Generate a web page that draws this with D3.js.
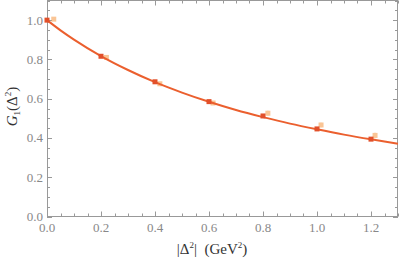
<!DOCTYPE html>
<html>
<head>
<meta charset="utf-8">
<script src="https://cdn.jsdelivr.net/npm/d3@7"></script>
<style>
  body { margin: 0; background: #fff; }
  text { font-family: "Liberation Serif", "DejaVu Serif", serif; }
</style>
</head>
<body>
<div id="chart"></div>
<script>
// data
const tValues = [0.0, 0.2, 0.4, 0.6, 0.8, 1.0, 1.2];
const latticeA = [1.0, 0.816, 0.686, 0.585, 0.512, 0.446, 0.394];
const latticeBx = [0.025, 0.22, 0.418, 0.615, 0.818, 1.015, 1.215];
const latticeB = [1.005, 0.81, 0.676, 0.578, 0.526, 0.466, 0.413];
const latticeBerr = [0.006, 0.008, 0.008, 0.008, 0.012, 0.012, 0.014];
const curveT = [0.0, 0.05, 0.1, 0.2, 0.3, 0.4, 0.5, 0.6, 0.7, 0.8, 0.9, 1.0, 1.1, 1.2, 1.3];
const curveG = [1.0, 0.948, 0.901, 0.817, 0.746, 0.684, 0.631, 0.584, 0.542, 0.506, 0.473, 0.444, 0.417, 0.393, 0.371];
const xTicks = [0.0, 0.2, 0.4, 0.6, 0.8, 1.0, 1.2];
const yTicks = [0.0, 0.2, 0.4, 0.6, 0.8, 1.0];

const width = 399, height = 265;
const margin = {left: 47, right: 1, top: 0, bottom: 48};

const svg = d3.select("#chart").append("svg")
    .attr("width", width)
    .attr("height", height)

const x = d3.scaleLinear().domain([0, 1.3]).range([margin.left, width - margin.right])
const y = d3.scaleLinear().domain([0, 1.1]).range([height - margin.bottom - 0.5, margin.top + 0.5])

const axisColor = "#999";
const x0 = x.range()[0], x1 = x.range()[1], y0 = y.range()[0], y1 = y.range()[1];

// frame
svg.append("rect")
    .attr("x", x0 + 0.5).attr("y", y1)
    .attr("width", x1 - x0 - 1).attr("height", y0 - y1)
    .attr("fill", "none").attr("stroke", axisColor).attr("stroke-width", 1)

// ticks on all four sides
const xMinor = d3.range(0, 1.3001, 0.05).map(v => +v.toFixed(2));
const yMinor = d3.range(0, 1.1001, 0.05).map(v => +v.toFixed(2));
const isMajor = v => Math.abs(v * 5 - Math.round(v * 5)) < 1e-6;

const ticks = svg.append("g").attr("stroke", axisColor).attr("stroke-width", 1)
xMinor.forEach(v => {
    const len = isMajor(v) ? 5 : 3;
    const px = Math.round(x(v)) + 0.5;
    ticks.append("line").attr("x1", px).attr("x2", px).attr("y1", y0).attr("y2", y0 - len)
    ticks.append("line").attr("x1", px).attr("x2", px).attr("y1", y1).attr("y2", y1 + len)
})
yMinor.forEach(v => {
    const len = isMajor(v) ? 5 : 3;
    const py = Math.round(y(v)) + 0.5;
    ticks.append("line").attr("y1", py).attr("y2", py).attr("x1", x0).attr("x2", x0 + len)
    ticks.append("line").attr("y1", py).attr("y2", py).attr("x1", x1).attr("x2", x1 - len)
})

// tick labels
svg.append("g").selectAll("text")
    .data(xTicks)
    .join("text")
    .attr("x", d => x(d))
    .attr("y", y0 + 15)
    .attr("text-anchor", "middle")
    .attr("font-size", 13)
    .attr("fill", "#888")
    .text(d => d.toFixed(1))

svg.append("g").selectAll("text")
    .data(yTicks)
    .join("text")
    .attr("x", x0 - 4)
    .attr("y", d => y(d) + 4.5)
    .attr("text-anchor", "end")
    .attr("font-size", 13)
    .attr("fill", "#888")
    .text(d => d.toFixed(1))

// axis titles
const xt = svg.append("text")
    .attr("x", 212).attr("y", 254)
    .attr("text-anchor", "middle")
    .attr("font-size", 15)
    .attr("fill", "#333")
xt.append("tspan").text("|Δ")
xt.append("tspan").attr("font-size", 9).attr("dy", -6).text("2")
xt.append("tspan").attr("dy", 6).text("|\u2002(GeV")
xt.append("tspan").attr("font-size", 9).attr("dy", -6).text("2")
xt.append("tspan").attr("dy", 6).text(")")

const yt = svg.append("text")
    .attr("transform", `translate(17, ${y(0.56)}) rotate(-90)`)
    .attr("text-anchor", "middle")
    .attr("font-size", 15)
    .attr("fill", "#333")
yt.append("tspan").attr("font-style", "italic").text("G")
yt.append("tspan").attr("font-size", 9).attr("dy", 3).text("1")
yt.append("tspan").attr("dy", -3).text("(Δ")
yt.append("tspan").attr("font-size", 9).attr("dy", -6).text("2")
yt.append("tspan").attr("dy", 6).text(")")

// light points (offset set) with small error bars
const lightData = latticeBx.map((t, i) => ({t, g: latticeB[i], e: latticeBerr[i]}));
const light = svg.append("g").attr("opacity", 0.6)
light.selectAll("line")
    .data(lightData)
    .join("line")
    .attr("x1", d => x(d.t)).attr("x2", d => x(d.t))
    .attr("y1", d => y(d.g - d.e)).attr("y2", d => y(d.g + d.e))
    .attr("stroke", "#f8b060").attr("stroke-width", 1.5)
light.selectAll("rect")
    .data(lightData)
    .join("rect")
    .attr("x", d => x(d.t) - 2.5).attr("y", d => y(d.g) - 2.5)
    .attr("width", 5).attr("height", 5)
    .attr("fill", "#f8a050")

// fit curve
const line = d3.line()
    .x((d, i) => x(curveT[i]))
    .y(d => y(d))
    .curve(d3.curveMonotoneX)

svg.append("path")
    .datum(curveG)
    .attr("d", line)
    .attr("fill", "none")
    .attr("stroke", "#eb5f2e")
    .attr("stroke-width", 2)

// dark points
svg.append("g").selectAll("rect")
    .data(tValues)
    .join("rect")
    .attr("x", d => x(d) - 2.5).attr("y", (d, i) => y(latticeA[i]) - 2.5)
    .attr("width", 5).attr("height", 5)
    .attr("fill", "#e2502a")
</script>
</body>
</html>
